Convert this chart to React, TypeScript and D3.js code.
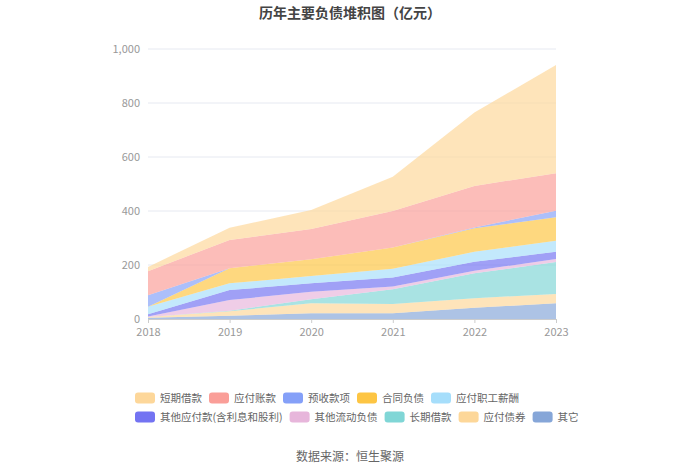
import React, { useEffect, useRef } from "react";
import * as d3 from "d3";

const years = ["2018", "2019", "2020", "2021", "2022", "2023"];

// 亿元, per series, in legend order (top of stack first)
const shortLoans = [16, 45, 71, 127, 272, 401];
const payables = [89, 105, 112, 135, 154, 139];
const advances = [43, 0, 0, 0, 3, 24];
const contractLiab = [0, 56, 62, 79, 87, 87];
const staffPay = [27, 25, 27, 32, 37, 41];
const otherPayables = [9, 37, 31, 34, 33, 27];
const otherCurrent = [2, 39, 28, 10, 10, 11];
const longLoans = [0, 2, 15, 54, 92, 118];
const bonds = [2, 17, 37, 35, 35, 35];
const others = [5, 12, 21, 21, 42, 58];

const seriesNames = [
  "短期借款",
  "应付账款",
  "预收款项",
  "合同负债",
  "应付职工薪酬",
  "其他应付款(含利息和股利)",
  "其他流动负债",
  "长期借款",
  "应付债券",
  "其它",
];
const seriesValues = [
  shortLoans,
  payables,
  advances,
  contractLiab,
  staffPay,
  otherPayables,
  otherCurrent,
  longLoans,
  bonds,
  others,
];
const colors = [
  "#fdd79a",
  "#fa9e98",
  "#85a0f8",
  "#fdc543",
  "#a6defb",
  "#7373f2",
  "#e7b6db",
  "#80d6d6",
  "#fdd799",
  "#86a6d8",
];
const yTicks = [0, 200, 400, 600, 800, 1000];

const FONT = "'Noto Sans CJK SC', 'Noto Sans', sans-serif";

export default function App() {
  const ref = useRef<SVGSVGElement | null>(null);

  useEffect(() => {
    document.body.style.margin = "0";
    if (!ref.current) return;
    const svg = d3.select(ref.current);
    svg.selectAll("*").remove();

    const x = d3.scalePoint<string>().domain(years).range([148, 556]);
    const y = d3.scaleLinear().domain([0, 1000]).range([319, 49]);

    const table = years.map((yr, i) => {
      const row: Record<string, number | string> = { year: yr };
      seriesNames.forEach((n, k) => (row[n] = seriesValues[k][i]));
      return row;
    });

    // bottom of the stack is the last legend entry
    const keys = seriesNames.slice().reverse();
    const stacked = d3.stack<any>().keys(keys)(table);

    // grid
    svg
      .append("g")
      .selectAll("line")
      .data(yTicks.slice(1))
      .enter()
      .append("line")
      .attr("x1", 148)
      .attr("x2", 556)
      .attr("y1", (d) => y(d))
      .attr("y2", (d) => y(d))
      .attr("stroke", "#e6e9f1")
      .attr("stroke-width", 1);

    const area = d3
      .area<any>()
      .x((d) => x(d.data.year) as number)
      .y0((d) => y(d[0]))
      .y1((d) => y(d[1]))
      .curve(d3.curveLinear);

    svg
      .append("g")
      .selectAll("path")
      .data(stacked)
      .enter()
      .append("path")
      .attr("d", area)
      .attr("fill", (d) => colors[seriesNames.indexOf(d.key)])
      .attr("fill-opacity", 0.68);

    // y axis labels
    svg
      .append("g")
      .selectAll("text")
      .data(yTicks)
      .enter()
      .append("text")
      .attr("x", 140)
      .attr("y", (d) => y(d))
      .attr("dy", "0.35em")
      .attr("text-anchor", "end")
      .attr("font-size", 11)
      .attr("fill", "#999")
      .attr("font-family", FONT)
      .text((d) => d3.format(",")(d));

    // x axis
    const xAxis = d3.axisBottom(x).tickSize(4).tickSizeOuter(0);
    const gx = svg.append("g").attr("transform", "translate(0,319)").call(xAxis);
    gx.select(".domain").attr("stroke", "#ccc");
    gx.selectAll(".tick line").attr("stroke", "#ccc");
    gx.selectAll(".tick text")
      .attr("fill", "#999")
      .attr("font-size", 11)
      .attr("font-family", FONT)
      .attr("dy", "0.9em");

    // title
    svg
      .append("text")
      .attr("x", 350)
      .attr("y", 18)
      .attr("text-anchor", "middle")
      .attr("font-size", 14)
      .attr("font-weight", "bold")
      .attr("fill", "#444")
      .attr("font-family", FONT)
      .text("历年主要负债堆积图（亿元）");

    // legend: two rows of five
    const legend = svg.append("g");
    [0, 1].forEach((row) => {
      let cx = 135;
      const ly = 398 + row * 19;
      seriesNames.slice(row * 5, row * 5 + 5).forEach((name, j) => {
        const k = row * 5 + j;
        legend
          .append("rect")
          .attr("x", cx)
          .attr("y", ly - 5.5)
          .attr("width", 20)
          .attr("height", 11)
          .attr("rx", 3)
          .attr("fill", colors[k]);
        const t = legend
          .append("text")
          .attr("x", cx + 25)
          .attr("y", ly)
          .attr("dy", "0.35em")
          .attr("font-size", 10.5)
          .attr("fill", "#666")
          .attr("font-family", FONT)
          .text(name);
        const w = (t.node() as SVGTextElement).getComputedTextLength();
        cx += 25 + w + 7;
      });
    });

    svg
      .append("text")
      .attr("x", 350)
      .attr("y", 461)
      .attr("text-anchor", "middle")
      .attr("font-size", 12)
      .attr("fill", "#666")
      .attr("font-family", FONT)
      .text("数据来源：恒生聚源");
  }, []);

  return <svg ref={ref} width={700} height={474} style={{ display: "block" }} />;
}
